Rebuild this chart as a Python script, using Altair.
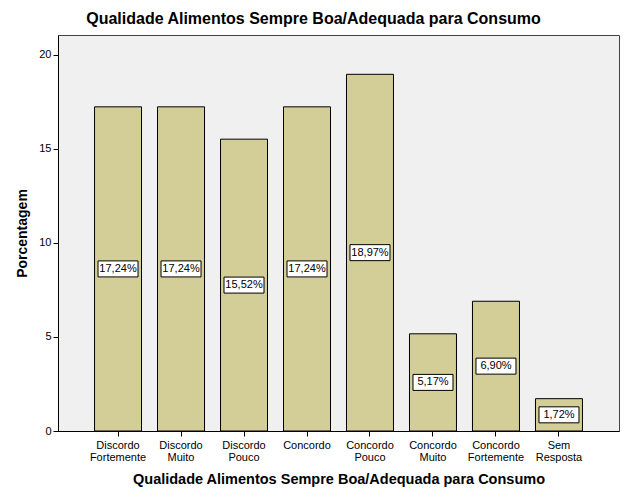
import altair as alt
import pandas as pd

categories = ["Discordo Fortemente", "Discordo Muito", "Discordo Pouco", "Concordo",
              "Concordo Pouco", "Concordo Muito", "Concordo Fortemente", "Sem Resposta"]
values = [17.24, 17.24, 15.52, 17.24, 18.97, 5.17, 6.90, 1.72]
y_ticks = [0, 5, 10, 15, 20]

df = pd.DataFrame({"cat": categories, "val": values})
df["half"] = df["val"] / 2
df["lbl"] = [f"{v:.2f}".replace(".", ",") + "%" for v in values]

FONT = "Liberation Sans"
TITLE = "Qualidade Alimentos Sempre Boa/Adequada para Consumo"

x_enc = alt.X("cat:N", sort=categories,
              scale=alt.Scale(paddingInner=0.254, paddingOuter=0.58),
              axis=alt.Axis(title=TITLE, labelAngle=0,
                            labelExpr="split(datum.label, ' ')",
                            labelFont=FONT, labelFontSize=11, labelColor="#000",
                            labelLineHeight=12, labelPadding=3,
                            tickSize=5, tickColor="#000", domainColor="#000",
                            titleFont=FONT, titleFontSize=14.5, titleFontWeight="bold",
                            titleColor="#000", titlePadding=10))
y_scale = alt.Scale(domain=[0, 21.06], nice=False)

bars = alt.Chart(df).mark_bar(color="#D3CE97", stroke="#000", strokeWidth=1).encode(
    x=x_enc,
    y=alt.Y("val:Q", scale=y_scale,
            axis=alt.Axis(title="Porcentagem", values=y_ticks, grid=False,
                          labelFont=FONT, labelFontSize=11, labelColor="#000",
                          tickSize=5, tickColor="#000", domainColor="#000",
                          labelPadding=2,
                          titleFont=FONT, titleFontSize=14, titleFontWeight="bold",
                          titleColor="#000", titlePadding=9)),
)

boxes = alt.Chart(df).mark_point(
    shape="M-1,-0.4L1,-0.4L1,0.4L-1,0.4Z", size=1600, filled=True,
    fill="#FFFFFF", stroke="#000", strokeWidth=1, opacity=1
).encode(
    x=alt.X("cat:N", sort=categories),
    y=alt.Y("half:Q", scale=y_scale),
)

texts = alt.Chart(df).mark_text(font=FONT, fontSize=11, color="#000").encode(
    x=alt.X("cat:N", sort=categories),
    y=alt.Y("half:Q", scale=y_scale),
    text="lbl:N",
)

chart = alt.layer(bars, boxes, texts).properties(
    width=561, height=396,
    title=alt.TitleParams(TITLE, font=FONT, fontSize=16, fontWeight="bold",
                          color="#000", anchor="middle", dx=-25, offset=8),
    autosize=alt.AutoSizeParams(type="none"),
    padding={"left": 58, "top": 35, "right": 7, "bottom": 70},
).configure_view(fill="#F0F0F0", stroke="#444", strokeWidth=1)

chart.save("out.html", embed_options={"renderer": "svg", "actions": False})
